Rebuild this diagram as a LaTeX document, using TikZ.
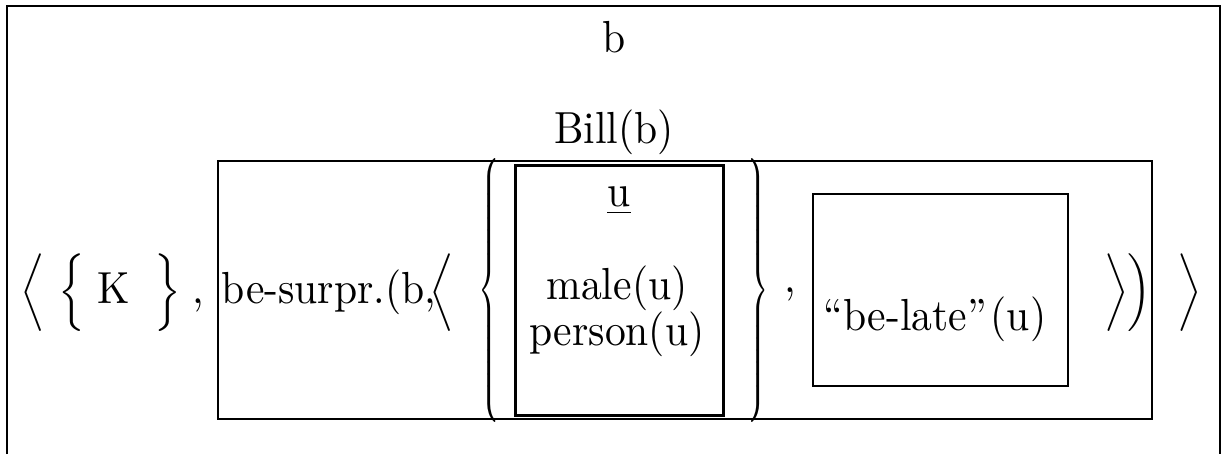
\documentclass[tikz,border=0pt]{standalone}
\usepackage{amsmath}
\usepackage{graphicx}
\usetikzlibrary{positioning}

\tikzset{
  drsbox/.style={draw, line width=0.5pt, inner sep=0pt},
  drstxt/.style={anchor=base, inner sep=0pt, font=\fontsize{10.4}{12.5}\selectfont},
}
% text a little taller than wide, as in the scan
\newcommand{\tall}[1]{\scalebox{1}[1.08]{#1}}
% tall brace that spans a whole box
\newcommand{\tallbrace}[1]{\scalebox{0.6}[1]{$\delimiterfactor=1001\delimitershortfall=0pt
  \left#1\vrule height 33.3pt depth 27.9pt width 0pt\right.$}}

\begin{document}
\begin{tikzpicture}[x=0.25pt, y=-0.25pt]
  \useasboundingbox (0,0) rectangle (1228,454);

  % outer frame, open at the bottom
  \draw[line width=0.5pt] (7,454) -- (7,6) -- (1220,6) -- (1220,454);
  \node[drstxt] (refb) at (614,52) {\tall{b}};
  \node[drstxt] (bill) at (614,143) {\tall{Bill(b)}};

  % left part of the row
  \node[drstxt] (langA) at (33,303) {\tall{$\Big\langle$}};
  \node[drstxt] (lbrK) at (72,303) {\tall{$\Big\{$}};
  \node[drstxt] (kvar) at (114,303) {\tall{K}};
  \node[drstxt] (rbrK) at (168,303) {\tall{$\Big\}$}};
  \node[drstxt] (commaA) at (198,303) {\tall{,}};

  % condition box
  \node[drsbox, minimum width=233.5pt, minimum height=64.5pt] (surprbox) at (685,290) {};
  \node[drstxt, anchor=base west] (surpr) at (221,303) {\tall{be-surpr.(b,}};
  \node[drstxt] (langB) at (442,303) {\tall{$\Big\langle$}};
  \node[drstxt] (lbrU) at (491,300) {\tallbrace\{};
  \node[drsbox, line width=0.75pt, minimum width=52pt, minimum height=62.5pt] (ubox) at (619,290) {};
  \node[drstxt] (uvar) at (619,206) {\tall{\underline{u}}};
  \node[drstxt] (male) at (617,299) {\tall{male(u)}};
  \node[drstxt] (person) at (617,345) {\tall{person(u)}};
  \node[drstxt] (rbrU) at (760,300) {\tallbrace\}};
  \node[drstxt] (commaB) at (790,292) {\tall{,}};
  \node[drsbox, minimum width=63.75pt, minimum height=48pt] (latebox) at (940.5,290) {};
  \node[drstxt] (belate) at (935,330) {\tall{``be-late''\kern1pt(u)}};
  \node[drstxt] (rangB) at (1117,303) {\tall{$\Big\rangle$}};
  \node[drstxt] (rparB) at (1139,303) {\tall{$\Big)$}};

  \node[drstxt] (rangA) at (1190,303) {\tall{$\Big\rangle$}};
\end{tikzpicture}
\end{document}
